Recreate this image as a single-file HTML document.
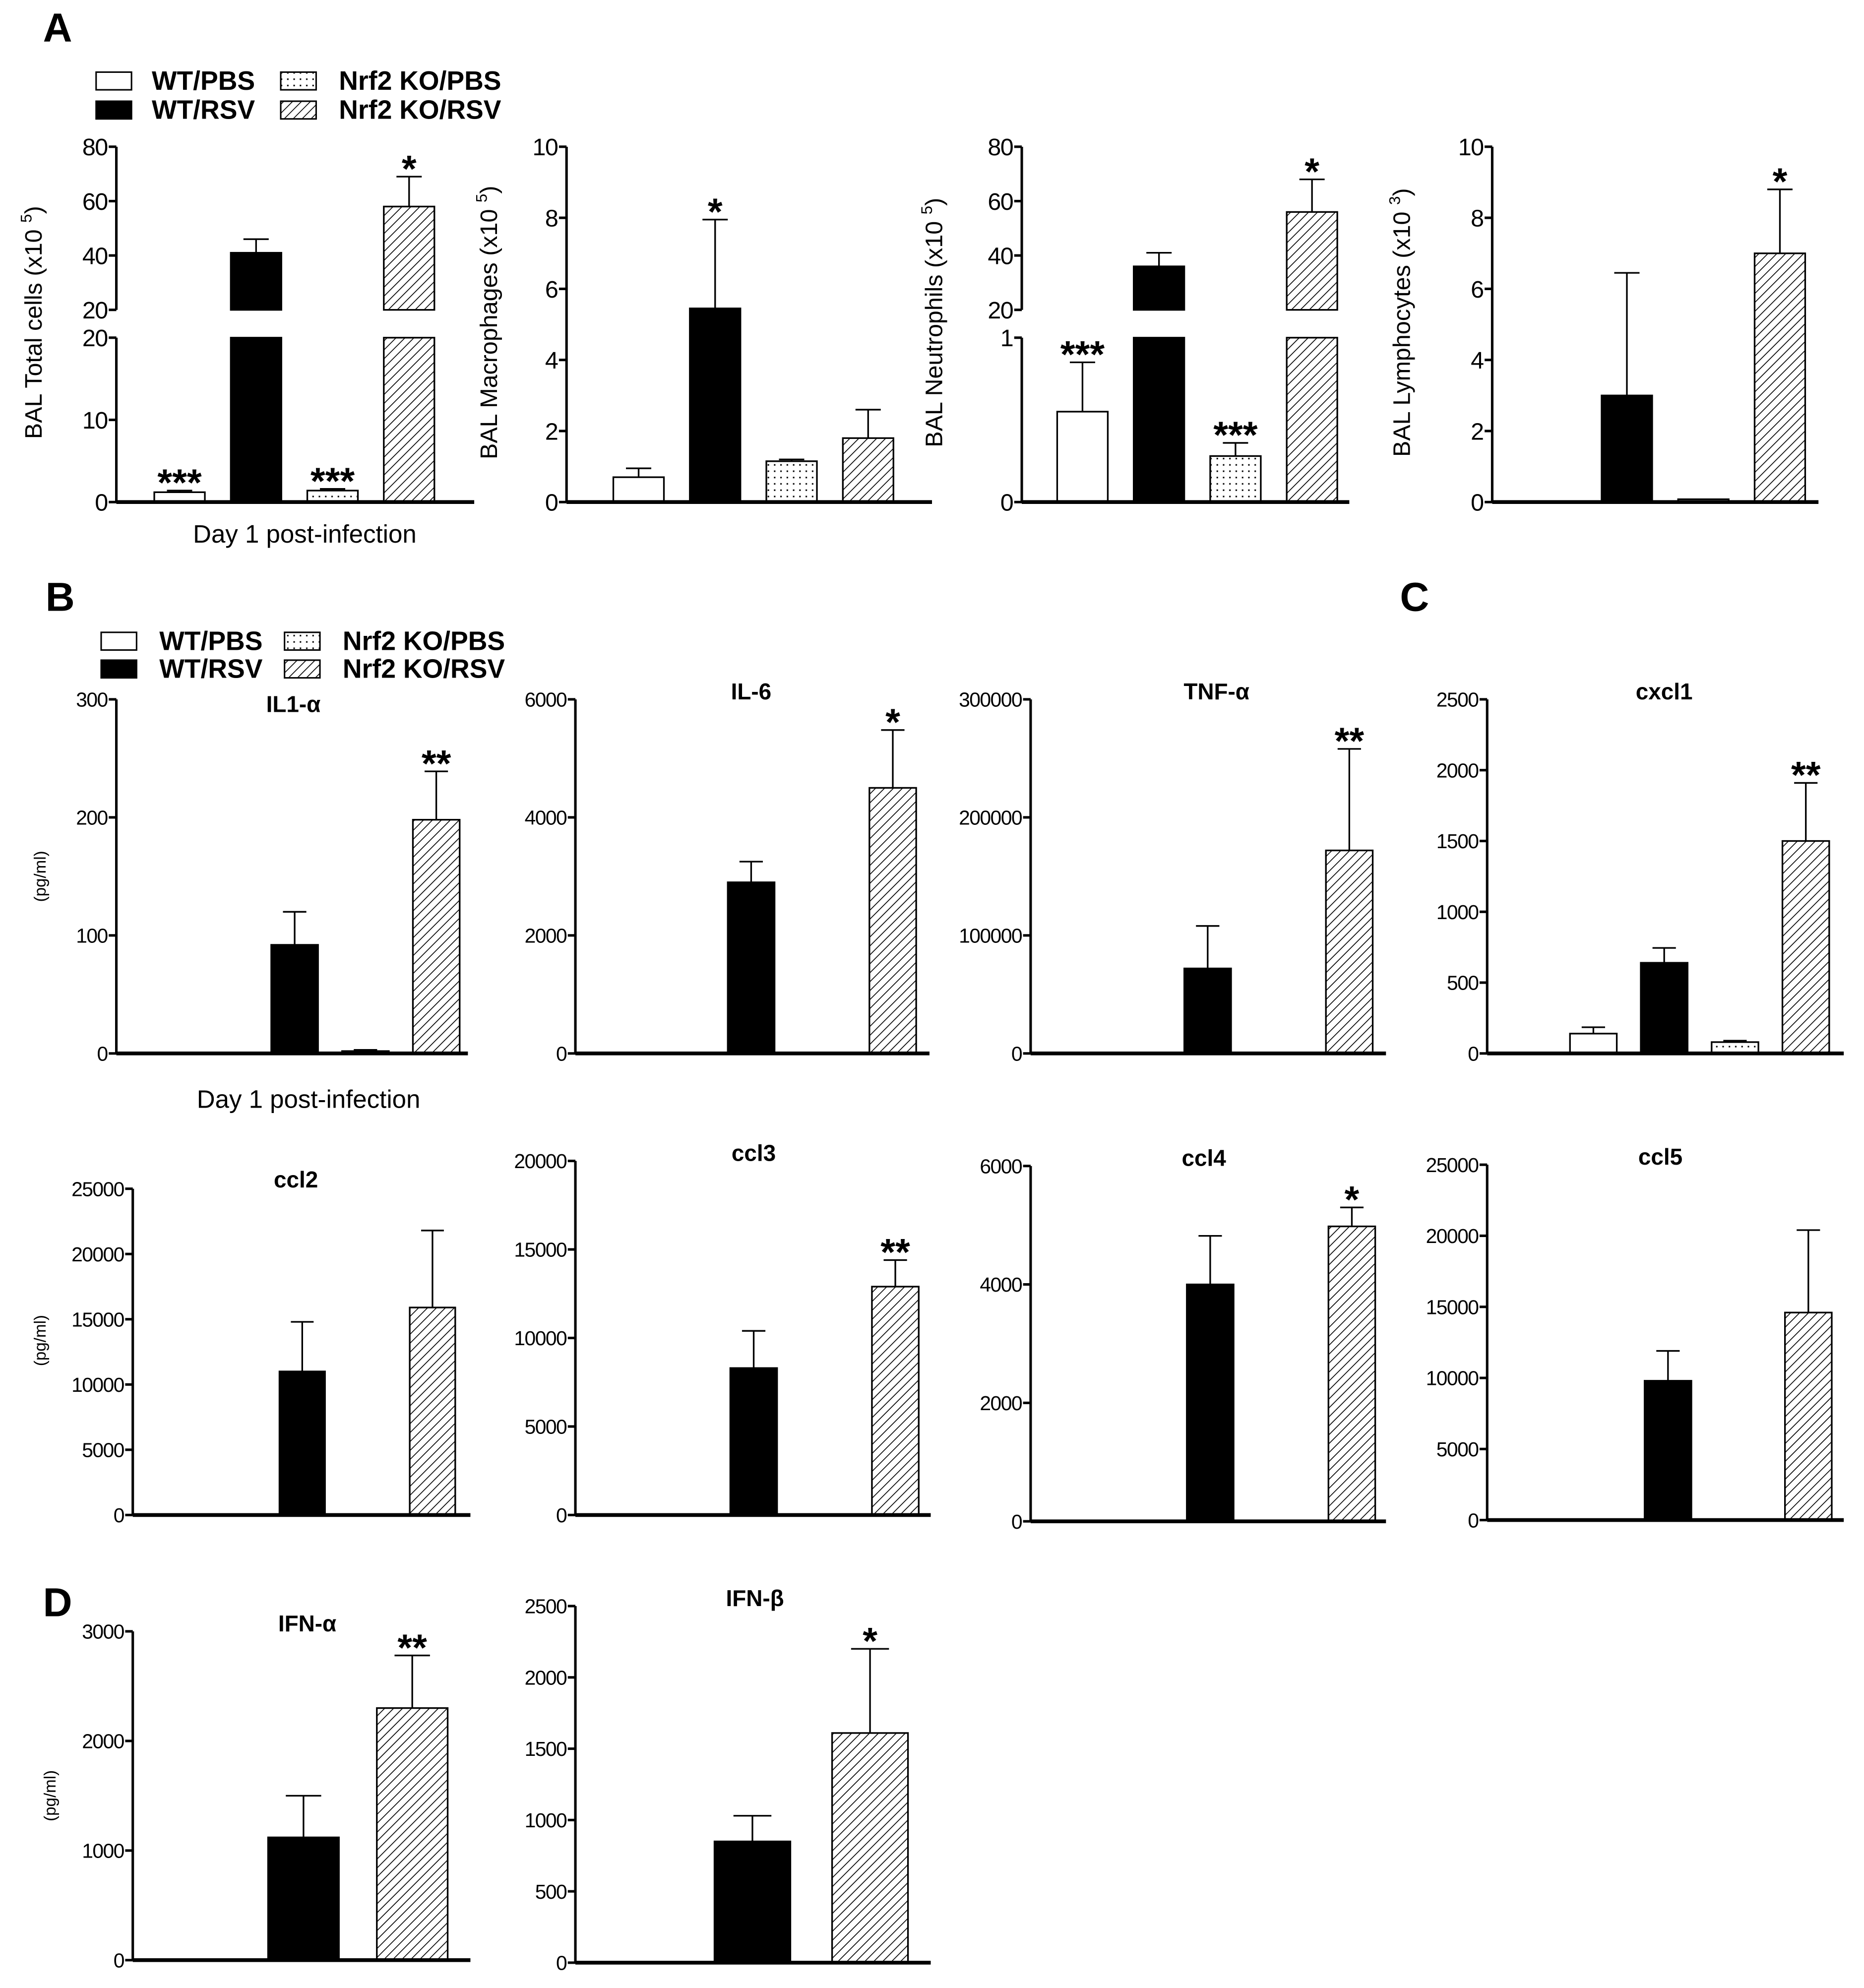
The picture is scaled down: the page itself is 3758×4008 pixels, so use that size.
<!DOCTYPE html>
<html><head><meta charset="utf-8"><style>
html,body{margin:0;padding:0;background:#fff}
svg{display:block}
text{font-family:"Liberation Sans",sans-serif;fill:#000}
</style></head><body>
<svg id="fig" width="3758" height="4008" viewBox="0 0 1474 1572" xmlns="http://www.w3.org/2000/svg">
<defs>
<pattern id="hatch" patternUnits="userSpaceOnUse" width="5" height="5" patternTransform="rotate(45)">
<rect width="5" height="5" fill="#fff"/><line x1="0" y1="0" x2="0" y2="5" stroke="#000" stroke-width="1.3"/>
</pattern>
<pattern id="dots" patternUnits="userSpaceOnUse" width="5" height="5">
<rect width="5" height="5" fill="#fff"/><rect x="2" y="2" width="1.2" height="1.2" fill="#000"/>
</pattern>
</defs>
<g id="root"></g>
</svg>
<script>
// ---- data ----
const groups = ["WT/PBS","WT/RSV","Nrf2 KO/PBS","Nrf2 KO/RSV"];
const totalVals = [1.2, 41, 1.4, 58];
const totalErrs = [1.4, 46, 1.6, 69];
const totalStars = ["***","","***","*"];
const macVals = [0.7, 5.45, 1.15, 1.8];
const macErrs = [0.95, 7.95, 1.2, 2.6];
const macStars = ["","*","",""];
const neuVals = [0.55, 36, 0.28, 56];
const neuErrs = [0.85, 41, 0.36, 68];
const neuStars = ["***","","***","*"];
const lymVals = [0, 3, 0.08, 7];
const lymErrs = [0, 6.45, 0.08, 8.8];
const lymStars = ["","","","*"];
const il1Vals = [0.5, 92, 2, 198];
const il1Errs = [0.5, 120, 3, 239];
const il1Stars = ["","","","**"];
const il6Vals = [0, 2900, 0, 4500];
const il6Errs = [0, 3250, 0, 5480];
const il6Stars = ["","","","*"];
const tnfVals = [0, 72000, 0, 172000];
const tnfErrs = [0, 108000, 0, 258000];
const tnfStars = ["","","","**"];
const cxcl1Vals = [140, 640, 80, 1500];
const cxcl1Errs = [185, 745, 90, 1910];
const cxcl1Stars = ["","","","**"];
const ccl2Vals = [0, 11000, 0, 15900];
const ccl2Errs = [0, 14800, 0, 21800];
const ccl2Stars = ["","","",""];
const ccl3Vals = [0, 8300, 0, 12900];
const ccl3Errs = [0, 10400, 0, 14400];
const ccl3Stars = ["","","","**"];
const ccl4Vals = [0, 4000, 0, 4980];
const ccl4Errs = [0, 4820, 0, 5300];
const ccl4Stars = ["","","","*"];
const ccl5Vals = [0, 9800, 0, 14600];
const ccl5Errs = [0, 11900, 0, 20400];
const ccl5Stars = ["","","",""];
const ifnaVals = [0, 1120, 0, 2300];
const ifnaErrs = [0, 1500, 0, 2780];
const ifnaStars = ["","","","**"];
const ifnbVals = [0, 850, 0, 1610];
const ifnbErrs = [0, 1030, 0, 2200];
const ifnbStars = ["","","","*"];
const ticksTotalLow = [0,10,20];
const ticksTotalHigh = [20,40,60,80];
const ticksMac = [0,2,4,6,8,10];
const ticksNeuLow = [0,1];
const ticksNeuHigh = [20,40,60,80];
const ticksLym = [0,2,4,6,8,10];
const ticksIl1 = [0,100,200,300];
const ticksIl6 = [0,2000,4000,6000];
const ticksTnf = [0,100000,200000,300000];
const ticksCxcl1 = [0,500,1000,1500,2000,2500];
const ticksCcl2 = [0,5000,10000,15000,20000,25000];
const ticksCcl3 = [0,5000,10000,15000,20000];
const ticksCcl4 = [0,2000,4000,6000];
const ticksCcl5 = [0,5000,10000,15000,20000,25000];
const ticksIfna = [0,1000,2000,3000];
const ticksIfnb = [0,500,1000,1500,2000,2500];

const NS="http://www.w3.org/2000/svg";
const root=document.getElementById('root');
function mk(tag,attrs,parent){const e=document.createElementNS(NS,tag);for(const k in attrs)e.setAttribute(k,attrs[k]);(parent||root).appendChild(e);return e;}
function txt(s,attrs,parent){const e=mk('text',attrs,parent);e.textContent=s;return e;}
const fills=['#fff','#000','url(#dots)','url(#hatch)'];

function chart(c){
  const g=mk('g',{});
  
  
  let y;
  if(c.broken){
    const b=c.broken;
    y=v=> v<=b.lowMax ? c.base-(v/b.lowMax)*(c.base-b.lowTop) : b.highBottom-(v-b.highMin)/(b.highMax-b.highMin)*(b.highBottom-c.top);
  } else {
    y=v=>c.base-(v/c.max)*(c.base-c.top);
  }
  const xc=i=>c.x0+i*c.step;
  c.vals.forEach((v,i)=>{
    if(v<=0)return;
    const x=xc(i)-c.bw/2;
    if(c.broken && v>c.broken.lowMax){
      const b=c.broken;
      const r1=mk('rect',{x:x,y:b.lowTop,width:c.bw,height:c.base-b.lowTop,fill:fills[i],stroke:'#000','stroke-width':1.3},g);
      
      const r2=mk('rect',{x:x,y:y(v),width:c.bw,height:b.highBottom-y(v),fill:fills[i],stroke:'#000','stroke-width':1.3},g);
      
    } else {
      const r=mk('rect',{x:x,y:y(v),width:c.bw,height:c.base-y(v),fill:fills[i],stroke:'#000','stroke-width':1.3},g);
      
    }
    const e=c.errs[i];
    if(e>v){
      const el=mk('path',{d:`M${xc(i)} ${y(v)}V${y(e)}M${xc(i)-c.bw/4} ${y(e)}H${xc(i)+c.bw/4}`,stroke:'#000','stroke-width':1.3,fill:'none'},g);
      
    }
    if(c.stars[i]){
      const s=txt(c.stars[i],{x:xc(i),y:y(Math.max(e,v))+4,'text-anchor':'middle','font-size':c.starSize||30,'font-weight':'bold'},g);
      
    }
  });
  const ax=mk('g',{},g);
  const fs=c.fs;
  function tick(yy,t){mk('line',{x1:c.ax-6,y1:yy,x2:c.ax,y2:yy,stroke:'#000','stroke-width':2},ax);
      txt(String(t),{x:c.ax-7,y:yy+fs*0.36,'text-anchor':'end','font-size':fs,'letter-spacing':-0.6},ax);}
  if(c.broken){
    const b=c.broken;
    mk('line',{x1:c.ax,y1:b.lowTop,x2:c.ax,y2:c.base,stroke:'#000','stroke-width':2},ax);
    c.ticksLow.forEach(t=>tick(c.base-(t/b.lowMax)*(c.base-b.lowTop),t));
    mk('line',{x1:c.ax,y1:c.top,x2:c.ax,y2:b.highBottom,stroke:'#000','stroke-width':2},ax);
    c.ticksHigh.forEach(t=>tick(b.highBottom-(t-b.highMin)/(b.highMax-b.highMin)*(b.highBottom-c.top),t));
  } else {
    mk('line',{x1:c.ax,y1:c.top,x2:c.ax,y2:c.base,stroke:'#000','stroke-width':2},ax);
    c.ticks.forEach(t=>tick(y(t),t));
  }
  const xa=mk('line',{x1:c.ax,y1:c.base,x2:c.xEnd,y2:c.base,stroke:'#000','stroke-width':3},g);
  
  if(c.title){const t=txt(c.title,{x:c.titleX,y:c.titleY,'text-anchor':'middle','font-size':18,'font-weight':'bold'},g);}
  if(c.ylabel){
    const t=mk('text',{x:0,y:0,'text-anchor':'middle','font-size':c.ylfs,transform:`translate(${c.ylx},${c.yly}) rotate(-90)`},g);
    
    if(c.ysup){
      const a=mk('tspan',{},t);a.textContent=c.ylabel+' ';
      const s=mk('tspan',{'font-size':c.ylfs*0.65,dy:-8},t);s.textContent=c.ysup;
      const z=mk('tspan',{dy:8},t);z.textContent=')';
    } else t.textContent=c.ylabel;
  }
}

const bigA={fs:19,bw:40,step:60.5};
chart(Object.assign({},bigA,{name:'bal-total-cells-chart',key:'total',ax:92,base:397,top:116,xEnd:375,x0:142,vals:totalVals,errs:totalErrs,stars:totalStars,
  broken:{lowMax:20,lowTop:267,highMin:20,highMax:80,highBottom:245},ticksLow:ticksTotalLow,ticksHigh:ticksTotalHigh,ylabel:'BAL Total cells (x10',ysup:'5',ylx:33,yly:255,ylfs:19}));
chart(Object.assign({},bigA,{name:'bal-macrophages-chart',key:'mac',ax:448,base:397,top:116,max:10,xEnd:737,x0:505,vals:macVals,errs:macErrs,stars:macStars,ticks:ticksMac,ylabel:'BAL Macrophages (x10',ysup:'5',ylx:393,yly:255,ylfs:19}));
chart(Object.assign({},bigA,{name:'bal-neutrophils-chart',key:'neu',ax:808,base:397,top:116,xEnd:1067,x0:856,vals:neuVals,errs:neuErrs,stars:neuStars,
  broken:{lowMax:1,lowTop:267,highMin:20,highMax:80,highBottom:245},ticksLow:ticksNeuLow,ticksHigh:ticksNeuHigh,ylabel:'BAL Neutrophils (x10',ysup:'5',ylx:745,yly:255,ylfs:19}));
chart(Object.assign({},bigA,{name:'bal-lymphocytes-chart',key:'lym',ax:1180,base:397,top:116,max:10,xEnd:1438,x0:1226,vals:lymVals,errs:lymErrs,stars:lymStars,ticks:ticksLym,ylabel:'BAL Lymphocytes (x10',ysup:'3',ylx:1115,yly:255,ylfs:19}));

const sm={fs:16,bw:37,step:56};
chart(Object.assign({},sm,{name:'il1a-chart',key:'il1',ax:92,base:833,top:553,max:300,xEnd:370,x0:177,vals:il1Vals,errs:il1Errs,stars:il1Stars,ticks:ticksIl1,title:'IL1-α',titleX:232,titleY:563,ylabel:'(pg/ml)',ylx:36,yly:693,ylfs:13}));
chart(Object.assign({},sm,{name:'il6-chart',key:'il6',ax:455,base:833,top:553,max:6000,xEnd:735,x0:538,vals:il6Vals,errs:il6Errs,stars:il6Stars,ticks:ticksIl6,title:'IL-6',titleX:594,titleY:553}));
chart(Object.assign({},sm,{name:'tnfa-chart',key:'tnf',ax:815,base:833,top:553,max:300000,xEnd:1096,x0:899,vals:tnfVals,errs:tnfErrs,stars:tnfStars,ticks:ticksTnf,title:'TNF-α',titleX:962,titleY:553}));
chart(Object.assign({},sm,{name:'cxcl1-chart',key:'cxcl1',ax:1176,base:833,top:553,max:2500,xEnd:1458,x0:1260,vals:cxcl1Vals,errs:cxcl1Errs,stars:cxcl1Stars,ticks:ticksCxcl1,title:'cxcl1',titleX:1316,titleY:553}));

chart(Object.assign({},sm,{name:'ccl2-chart',key:'ccl2',ax:105,base:1198,top:940,max:25000,step:51.5,bw:36,xEnd:372,x0:187.5,vals:ccl2Vals,errs:ccl2Errs,stars:ccl2Stars,ticks:ticksCcl2,title:'ccl2',titleX:234,titleY:939,ylabel:'(pg/ml)',ylx:36,yly:1060,ylfs:13}));
chart(Object.assign({},sm,{name:'ccl3-chart',key:'ccl3',ax:455,base:1198,top:918,max:20000,xEnd:736,x0:540,vals:ccl3Vals,errs:ccl3Errs,stars:ccl3Stars,ticks:ticksCcl3,title:'ccl3',titleX:596,titleY:918}));
chart(Object.assign({},sm,{name:'ccl4-chart',key:'ccl4',ax:815,base:1203,top:922,max:6000,xEnd:1096,x0:901,vals:ccl4Vals,errs:ccl4Errs,stars:ccl4Stars,ticks:ticksCcl4,title:'ccl4',titleX:952,titleY:922}));
chart(Object.assign({},sm,{name:'ccl5-chart',key:'ccl5',ax:1176,base:1202,top:921,max:25000,step:55.5,xEnd:1458,x0:1263.5,vals:ccl5Vals,errs:ccl5Errs,stars:ccl5Stars,ticks:ticksCcl5,title:'ccl5',titleX:1313,titleY:921}));

chart(Object.assign({},sm,{name:'ifna-chart',key:'ifna',ax:105,base:1550,top:1290,max:3000,bw:56,step:43,xEnd:372,x0:197,vals:ifnaVals,errs:ifnaErrs,stars:ifnaStars,ticks:ticksIfna,title:'IFN-α',titleX:243,titleY:1290,ylabel:'(pg/ml)',ylx:44,yly:1420,ylfs:13}));
chart(Object.assign({},sm,{name:'ifnb-chart',key:'ifnb',ax:455,base:1552,top:1270,max:2500,bw:60,step:46.5,xEnd:736,x0:548.5,vals:ifnbVals,errs:ifnbErrs,stars:ifnbStars,ticks:ticksIfnb,title:'IFN-β',titleX:597,titleY:1270}));

[['A',34,33],['B',36,483],['C',1107,483],['D',34,1278]].forEach(p=>{
  const t=txt(p[0],{x:p[1],y:p[2],'font-size':32,'font-weight':'bold'});
  
  
});
[['Day 1 post-infection',241,429],['Day 1 post-infection',244,876]].forEach((p,i)=>{
  const t=txt(p[0],{x:p[1],y:p[2],'text-anchor':'middle','font-size':20});
  
  
});
function legend(x1,x2,tx1,tx2,y1,y2,fs,nm){
  const g=mk('g',{});
  
  
  const pos=[[x1,tx1,y1],[x1,tx1,y2],[x2,tx2,y1],[x2,tx2,y2]];
  groups.forEach((gname,i)=>{
    const p=pos[i];
    mk('rect',{x:p[0],y:p[2]-14,width:28,height:14,fill:fills[i],stroke:'#000','stroke-width':1.2},g);
    const t=txt(gname,{x:p[1],y:p[2],'font-size':fs,'font-weight':'bold'},g);
    
    
  });
}
legend(76,222,120,268,71,94,21,'legend-a');
legend(80,225,126,271,514,536,21,'legend-b');
</script>
</body></html>
